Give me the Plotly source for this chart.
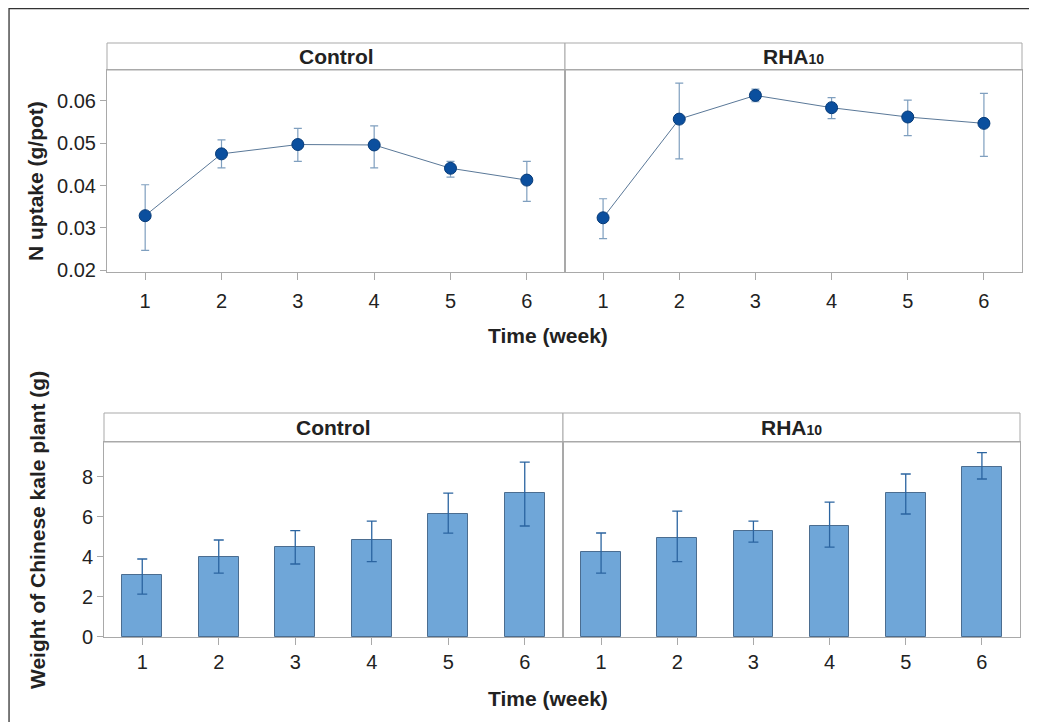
import plotly.graph_objects as go

W, H = 1037, 722
OFF = 8  # page body margin offset in the screenshot

weeks = [1, 2, 3, 4, 5, 6]
panels = ["Control", "RHA<span style='font-size:14px'>10</span>"]

# N uptake (g/pot)
n_ctrl = [0.0329, 0.0475, 0.0497, 0.0496, 0.0441, 0.0413]
n_ctrl_hi = [0.0402, 0.0508, 0.0535, 0.0541, 0.0457, 0.0457]
n_ctrl_lo = [0.0247, 0.0442, 0.0457, 0.0442, 0.0420, 0.0363]
n_rha = [0.0324, 0.0557, 0.0613, 0.0584, 0.0562, 0.0547]
n_rha_hi = [0.0369, 0.0642, 0.0628, 0.0608, 0.0602, 0.0618]
n_rha_lo = [0.0275, 0.0463, 0.0598, 0.0558, 0.0518, 0.0469]

# Weight of Chinese kale plant (g)
w_ctrl = [3.07, 4.00, 4.48, 4.82, 6.12, 7.17]
w_ctrl_hi = [3.88, 4.83, 5.30, 5.77, 7.17, 8.72]
w_ctrl_lo = [2.12, 3.17, 3.63, 3.75, 5.17, 5.53]
w_rha = [4.23, 4.95, 5.30, 5.53, 7.18, 8.47]
w_rha_hi = [5.18, 6.27, 5.77, 6.72, 8.13, 9.20]
w_rha_lo = [3.17, 3.75, 4.72, 4.47, 6.13, 7.88]

y1_ticks = [0.02, 0.03, 0.04, 0.05, 0.06]
y2_ticks = [0, 2, 4, 6, 8]

FONT = "Liberation Sans, Arial, sans-serif"
AX = "#a9a9a9"
TXT = "#222222"

def px(x):
    return (x - OFF) / W

def py(y):
    return 1 - (y - OFF) / H

fig = go.Figure()

def errs(v, hi, lo):
    return [h - m for h, m in zip(hi, v)], [m - l for m, l in zip(v, lo)]

for vals, hi, lo, xa, ya in [(n_ctrl, n_ctrl_hi, n_ctrl_lo, "x", "y"),
                             (n_rha, n_rha_hi, n_rha_lo, "x2", "y2")]:
    up, dn = errs(vals, hi, lo)
    fig.add_trace(go.Scatter(
        x=weeks, y=vals, xaxis=xa, yaxis=ya, mode="lines+markers",
        line=dict(color="#5a7898", width=1),
        marker=dict(size=12, color="#0b4f9e", line=dict(color="#073b78", width=1)),
        error_y=dict(type="data", symmetric=False, array=up, arrayminus=dn,
                     color="#7f9fbf", thickness=1.2, width=4),
        showlegend=False))

for vals, hi, lo, xa, ya in [(w_ctrl, w_ctrl_hi, w_ctrl_lo, "x3", "y3"),
                             (w_rha, w_rha_hi, w_rha_lo, "x4", "y4")]:
    up, dn = errs(vals, hi, lo)
    fig.add_trace(go.Bar(
        x=weeks, y=vals, xaxis=xa, yaxis=ya, width=0.52,
        marker=dict(color="#6fa6d8", line=dict(color="#4b6d90", width=1)),
        error_y=dict(type="data", symmetric=False, array=up, arrayminus=dn,
                     color="#2b64a0", thickness=1.3, width=5),
        showlegend=False))

top_y = [py(272), py(70)]
bot_y = [py(637), py(442)]

common_x = dict(range=[0.5, 6.5], tickvals=weeks, ticks="outside", ticklen=7,
                tickcolor=AX, showline=True, linecolor=AX, linewidth=1, mirror=True,
                showgrid=False, zeroline=False,
                tickfont=dict(family=FONT, size=20, color=TXT))
common_y = dict(ticks="outside", ticklen=6, tickcolor=AX, showline=True,
                linecolor=AX, linewidth=1, mirror=True, showgrid=False,
                zeroline=False, tickfont=dict(family=FONT, size=20, color=TXT))
plain_y = {k: v for k, v in common_y.items() if k != "ticks"}

fig.update_layout(
    width=W, height=H, margin=dict(l=0, r=0, t=0, b=0, autoexpand=False),
    paper_bgcolor="white", plot_bgcolor="white", bargap=0,
    xaxis=dict(domain=[px(107), px(565)], anchor="y", ticklabelstandoff=4, **common_x),
    xaxis2=dict(domain=[px(565), px(1022)], anchor="y2", ticklabelstandoff=4, **common_x),
    xaxis3=dict(domain=[px(104), px(563)], anchor="y3", ticklabelstandoff=0, **common_x),
    xaxis4=dict(domain=[px(563), px(1020)], anchor="y4", ticklabelstandoff=0, **common_x),
    yaxis=dict(domain=top_y, anchor="x", range=[0.0196, 0.0673],
               tickvals=y1_ticks, ticktext=[f"{v:.2f}" for v in y1_ticks], **common_y),
    yaxis2=dict(domain=top_y, anchor="x2", range=[0.0196, 0.0673],
                showticklabels=False, ticks="", **plain_y),
    yaxis3=dict(domain=bot_y, anchor="x3", range=[-0.02, 9.73],
                tickvals=y2_ticks, **common_y),
    yaxis4=dict(domain=bot_y, anchor="x4", range=[-0.02, 9.73],
                showticklabels=False, ticks="", **plain_y),
)

shapes = []
annotations = []
strips = [("x", "y", 27 / 202), ("x2", "y2", 27 / 202),
          ("x3", "y3", 29 / 195), ("x4", "y4", 29 / 195)]
labels = [panels[0], panels[1], panels[0], panels[1]]
for (xa, ya, h), lab in zip(strips, labels):
    shapes.append(dict(type="rect", xref=f"{xa} domain", yref=f"{ya} domain",
                       x0=0, x1=1, y0=1, y1=1 + h,
                       line=dict(color=AX, width=1), fillcolor="white", layer="below"))
    annotations.append(dict(text=f"<b>{lab}</b>", xref=f"{xa} domain", yref=f"{ya} domain",
                            x=0.5, y=1 + h / 2, showarrow=False,
                            font=dict(family=FONT, size=21, color=TXT),
                            xanchor="center", yanchor="middle"))

# outer frame (top and left edges visible)
shapes.append(dict(type="rect", xref="paper", yref="paper",
                   x0=0.001, x1=1.05, y0=-0.05, y1=0.999,
                   line=dict(color="#333333", width=1.3)))

def title(text, x, y, angle=0):
    return dict(text=f"<b>{text}</b>", xref="paper", yref="paper", x=px(x), y=py(y),
                showarrow=False, textangle=angle, xanchor="center", yanchor="middle",
                font=dict(family=FONT, size=21, color=TXT))

annotations += [
    title("Time (week)", 548, 335),
    title("Time (week)", 548, 698),
    title("N uptake (g/pot)", 35, 181, -90),
    title("Weight of Chinese kale plant (g)", 37, 530, -90),
]

fig.update_layout(shapes=shapes, annotations=annotations)
fig.write_html("out.html")
